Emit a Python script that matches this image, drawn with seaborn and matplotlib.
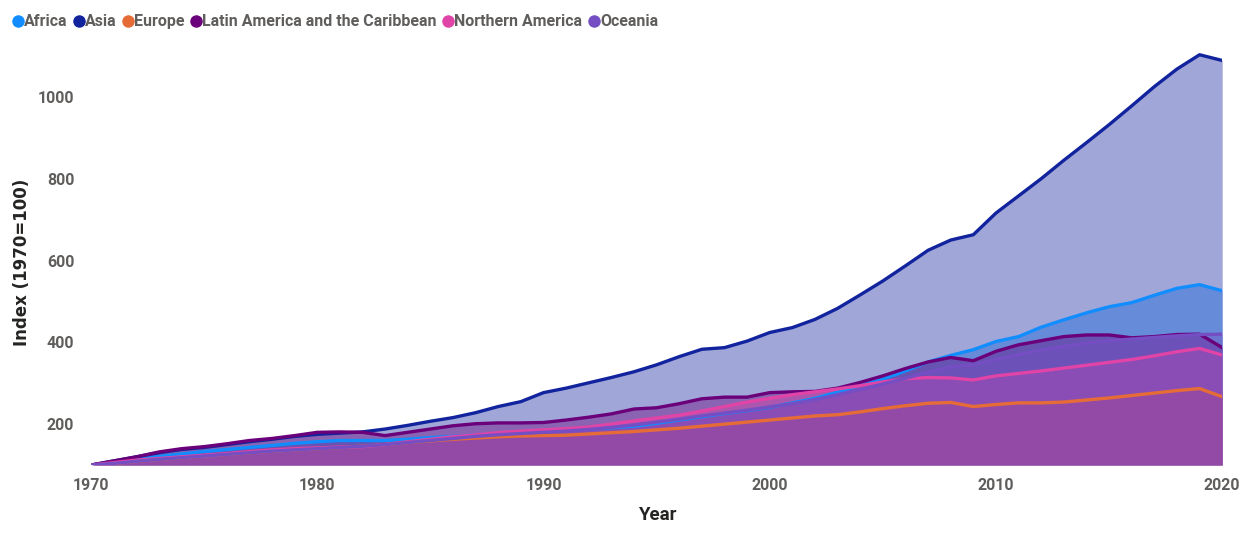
import numpy as np
import pandas as pd
import matplotlib.pyplot as plt
import seaborn as sns
from matplotlib.lines import Line2D

years = list(range(1970, 2021))

africa = [100, 107, 114, 121, 127, 133, 138, 143, 148, 153, 157, 160, 160, 160, 163, 167, 170, 174, 177, 180,
          183, 185, 188, 191, 195, 202, 210, 218, 226, 233, 241, 252, 263, 278, 295, 310, 330, 352, 368, 382,
          402, 414, 437, 455, 472, 487, 497, 515, 532, 541, 526]
asia = [100, 110, 120, 130, 138, 143, 150, 157, 163, 170, 175, 178, 181, 188, 197, 207, 216, 228, 243, 255,
        277, 288, 301, 314, 328, 345, 365, 383, 387, 403, 424, 436, 456, 483, 516, 550, 587, 625, 650, 663,
        716, 758, 800, 845, 888, 932, 978, 1025, 1068, 1103, 1089]
europe = [100, 104, 109, 114, 118, 122, 126, 130, 134, 137, 140, 143, 146, 150, 155, 159, 163, 166, 169, 171,
          172, 173, 176, 179, 182, 186, 190, 195, 200, 205, 210, 215, 220, 223, 230, 238, 245, 251, 253, 243,
          248, 252, 252, 254, 259, 264, 270, 276, 282, 287, 267]
latam = [100, 110, 120, 132, 140, 145, 152, 160, 165, 172, 180, 181, 180, 172, 180, 188, 196, 201, 203, 203,
         204, 210, 217, 225, 237, 240, 250, 262, 266, 266, 277, 279, 280, 288, 302, 318, 336, 352, 363, 355,
         378, 394, 404, 414, 418, 418, 411, 414, 419, 420, 387]
n_america = [100, 106, 112, 116, 120, 124, 128, 133, 137, 140, 142, 144, 145, 150, 157, 163, 169, 174, 179, 183,
             186, 189, 193, 200, 208, 215, 222, 232, 243, 254, 263, 272, 279, 286, 294, 303, 311, 314, 313, 308,
             318, 324, 330, 337, 344, 351, 358, 367, 377, 385, 369]
oceania = [100, 104, 109, 114, 118, 122, 126, 130, 134, 137, 140, 143, 146, 150, 155, 160, 165, 170, 174, 177,
           180, 183, 187, 192, 198, 205, 212, 220, 227, 234, 242, 250, 260, 272, 285, 298, 312, 327, 340, 345,
           358, 370, 381, 390, 398, 404, 408, 412, 416, 419, 420]

regions = ['Africa', 'Asia', 'Europe', 'Latin America and the Caribbean', 'Northern America', 'Oceania']
colors = ['#118DFF', '#12239E', '#E66C37', '#6B007B', '#E044A7', '#744EC2']

df = pd.DataFrame({'Year': years, 'Africa': africa, 'Asia': asia, 'Europe': europe,
                   'Latin America and the Caribbean': latam, 'Northern America': n_america,
                   'Oceania': oceania})
long = df.melt(id_vars='Year', var_name='Region', value_name='Index')

sns.set_style('white')
plt.rcParams['font.family'] = ['Roboto', 'DejaVu Sans']

fig = plt.figure(figsize=(12.52, 5.37), dpi=100)
ax = fig.add_axes([0.0727, 0.134, 0.9035, 0.777])

ymin = 100
for r, c in zip(regions, colors):
    ax.fill_between(df['Year'], ymin, df[r], color=c, alpha=0.4, linewidth=0)

sns.lineplot(data=long, x='Year', y='Index', hue='Region', palette=dict(zip(regions, colors)),
             linewidth=2.4, ax=ax, legend=False)
for ln in ax.get_lines():
    ln.set_solid_capstyle('round')

ax.set_xlim(1970, 2020)
ax.set_ylim(100, 1120)
ax.set_xticks(range(1970, 2021, 10))
ax.set_yticks(range(200, 1001, 200))
ax.tick_params(axis='both', length=0, labelsize=11.5, labelcolor='#605E5C')
ax.tick_params(axis='y', pad=12)
ax.tick_params(axis='x', pad=9)
for lab in ax.get_xticklabels() + ax.get_yticklabels():
    lab.set_fontweight('bold')
sns.despine(ax=ax, left=True, bottom=True)
ax.set_xlabel('')
ax.set_ylabel('')

fig.text(657 / 1252, 1 - 515 / 537, 'Year', ha='center', va='center', fontsize=13.5,
         fontweight='bold', color='#252423')
fig.text(22 / 1252, 1 - 262 / 537, 'Index (1970=100)', ha='center', va='center', rotation=90,
         fontsize=12, fontweight='bold', color='#252423', family='DejaVu Sans')

handles = [Line2D([0], [0], marker='o', color='w', markerfacecolor=c, markersize=10) for c in colors]
fig.legend(handles, regions, loc='upper left', bbox_to_anchor=(-0.005, 1.0), ncol=6, frameon=False,
           handletextpad=-0.2, columnspacing=0.1, handlelength=1.2,
           prop={'size': 11.5, 'weight': 'bold'}, labelcolor='#605E5C')

fig.savefig('out.png', dpi=100)
